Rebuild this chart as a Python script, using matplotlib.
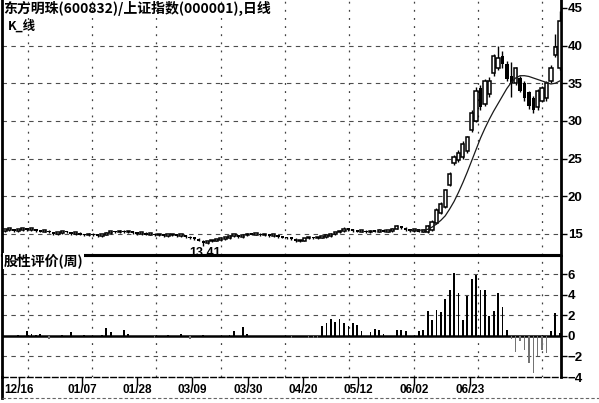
import numpy as np
import matplotlib.pyplot as plt
from matplotlib.lines import Line2D

CJK = ['Noto Sans CJK SC', 'DejaVu Sans']
NUM = ['Liberation Sans', 'DejaVu Sans']

title = '东方明珠(600832)/上证指数(000001),日线'
sub_title = 'K_线'
ind_title = '股性评价(周)'

# daily candles, oldest first
opens = [15.4, 15.5, 15.6, 15.4, 15.5, 15.7, 15.5, 15.6, 15.4, 15.3,
         15.4, 15.2, 15.0, 15.1, 15.3, 15.2, 15.0, 15.1, 14.9, 14.8,
         15.0, 14.8, 14.7, 14.9, 15.1, 15.3, 15.2, 15.4, 15.2, 15.3,
         15.1, 15.0, 15.1, 14.9, 15.0, 14.8, 14.9, 14.7, 14.8, 14.9,
         14.7, 14.8, 14.6, 14.4, 14.3, 14.1, 13.8, 14.0, 14.1, 14.2,
         14.3, 14.4, 14.7, 14.8, 14.6, 14.8, 15.0, 14.9, 15.0, 14.8,
         14.9, 14.7, 14.8, 14.6, 14.5, 14.4, 14.3, 14.0, 14.1, 14.4,
         14.5, 14.4, 14.5, 14.6, 14.7, 15.0, 15.2, 15.4, 15.7, 15.5,
         15.4, 15.3, 15.4, 15.2, 15.4, 15.3, 15.5, 15.3, 15.4, 15.7,
         16.0, 15.8, 15.5, 15.4, 15.6, 15.3,
         15.3, 15.5, 16.5, 17.8, 18.6, 21.5, 24.4, 24.8, 25.2, 26.0,
         28.8, 30.0, 34.4, 32.3, 33.6, 36.3, 37.0, 38.6, 37.6, 36.0,
         35.0, 35.7, 35.0, 33.8, 33.0, 31.8, 32.7, 33.0, 35.3, 38.8,
         37.0]
closes = [15.5, 15.6, 15.4, 15.5, 15.7, 15.5, 15.6, 15.4, 15.3, 15.4,
          15.2, 15.0, 15.1, 15.3, 15.2, 15.0, 15.1, 14.9, 14.8, 15.0,
          14.8, 14.7, 14.9, 15.1, 15.3, 15.2, 15.4, 15.2, 15.3, 15.1,
          15.0, 15.1, 14.9, 15.0, 14.8, 14.9, 14.7, 14.8, 14.9, 14.7,
          14.8, 14.6, 14.4, 14.3, 14.1, 13.8, 14.0, 14.1, 14.2, 14.3,
          14.4, 14.7, 14.8, 14.6, 14.8, 15.0, 14.9, 15.0, 14.8, 14.9,
          14.7, 14.8, 14.6, 14.5, 14.4, 14.3, 14.0, 14.1, 14.4, 14.5,
          14.4, 14.5, 14.6, 14.7, 15.0, 15.2, 15.4, 15.7, 15.5, 15.4,
          15.3, 15.4, 15.2, 15.4, 15.3, 15.5, 15.3, 15.4, 15.7, 16.0,
          15.8, 15.5, 15.4, 15.6, 15.3, 15.4,
          16.0, 16.6, 18.2, 19.0, 20.8, 23.0, 25.2, 25.8, 27.0, 27.8,
          31.0, 34.0, 31.8, 35.3, 35.3, 38.6, 38.4, 37.6, 35.6, 35.0,
          37.0, 34.0, 33.0, 32.0, 31.4, 34.0, 34.4, 35.0, 37.0, 39.8,
          43.3]
highs = [15.7, 15.8, 15.7, 15.6, 15.8, 15.8, 15.7, 15.7, 15.5, 15.5,
         15.5, 15.3, 15.2, 15.4, 15.4, 15.3, 15.2, 15.2, 15.0, 15.1,
         15.1, 14.9, 15.0, 15.2, 15.4, 15.4, 15.5, 15.5, 15.4, 15.4,
         15.2, 15.2, 15.2, 15.1, 15.1, 15.0, 15.0, 14.9, 15.0, 15.0,
         14.9, 14.9, 14.7, 14.5, 14.4, 14.2, 14.1, 14.2, 14.3, 14.4,
         14.5, 14.8, 14.9, 14.9, 14.9, 15.1, 15.1, 15.1, 15.1, 15.0,
         15.0, 14.9, 14.9, 14.7, 14.6, 14.5, 14.4, 14.2, 14.5, 14.6,
         14.6, 14.6, 14.7, 14.8, 15.1, 15.3, 15.5, 15.9, 15.8, 15.6,
         15.5, 15.5, 15.5, 15.5, 15.5, 15.6, 15.6, 15.5, 15.8, 16.2,
         16.1, 15.9, 15.6, 15.7, 15.7, 15.5,
         16.2, 16.8, 18.4, 19.3, 21.0, 23.2, 25.5, 26.2, 27.3, 28.0,
         31.5, 34.5, 34.8, 35.6, 35.8, 38.9, 40.0, 39.3, 37.9, 37.8,
         37.2, 36.0, 35.3, 34.0, 33.3, 34.2, 34.6, 35.3, 37.4, 41.5,
         44.6]
lows = [15.3, 15.4, 15.3, 15.3, 15.4, 15.4, 15.4, 15.3, 15.2, 15.2,
        15.1, 14.9, 14.9, 15.0, 15.1, 14.9, 14.9, 14.8, 14.7, 14.7,
        14.7, 14.6, 14.6, 14.8, 15.0, 15.1, 15.1, 15.1, 15.1, 15.0,
        14.9, 14.9, 14.8, 14.8, 14.7, 14.7, 14.6, 14.6, 14.7, 14.6,
        14.6, 14.5, 14.3, 14.2, 14.0, 13.41, 13.7, 13.9, 14.0, 14.1,
        14.2, 14.3, 14.6, 14.5, 14.5, 14.7, 14.8, 14.8, 14.7, 14.7,
        14.6, 14.6, 14.5, 14.4, 14.3, 14.2, 13.9, 13.9, 14.0, 14.3,
        14.3, 14.3, 14.4, 14.5, 14.6, 14.9, 15.1, 15.3, 15.4, 15.3,
        15.2, 15.2, 15.1, 15.1, 15.2, 15.2, 15.2, 15.2, 15.3, 15.6,
        15.6, 15.4, 15.3, 15.3, 15.2, 15.2,
        15.1, 15.4, 16.3, 17.6, 18.4, 21.3, 24.2, 24.5, 25.0, 25.8,
        28.5, 29.8, 31.5, 32.0, 33.2, 36.0, 36.8, 37.0, 35.3, 33.2,
        34.8, 33.8, 32.7, 31.6, 31.0, 31.5, 32.5, 32.7, 35.0, 38.5,
        36.8]

# moving average, only the part that shows above the candles
ma_start = 92
ma_vals = [15.4, 15.5, 15.5, 15.5, 15.6, 15.9, 16.3, 16.8, 17.4, 18.3,
           19.3, 20.5, 21.8, 23.2, 24.7, 26.2, 27.7, 29.0, 30.2, 31.3,
           32.3, 33.3, 34.3, 35.1, 35.7, 36.0, 36.0, 35.9, 35.7, 35.5,
           35.3, 35.1, 34.9, 35.0, 35.3]

# 股性评价 bars, one per candle
ind_vals = [0, 0, 0, 0.1, 0, 0.5, 0.2, 0.1, 0.15, 0,
            -0.3, 0, 0, 0.1, 0, 0.4, 0, 0, 0.1, 0,
            0, 0, 0.1, 0.8, 0.4, 0, 0, 0.6, 0.2, 0,
            0, 0, 0, 0, -0.15, 0, 0, 0.1, 0, 0,
            0.2, 0, -0.3, 0, 0, 0.1, 0, 0, 0, 0,
            0, 0.1, 0.5, 0, 0.9, 0.2, 0, 0, 0, 0,
            0, 0, 0, 0, 0, -0.2, 0, 0, 0, -0.2,
            -0.2, -0.2, 0.95, 1.25, 1.7, 1.35, 1.7, 1.25, 0.95, 1.3,
            1.1, 0.45, 0, 0.4, 0.7, 0.6, 0.15, 0, 0, 0.6,
            0.6, 0.5, 0, 0, 0.5, 0.55, 2.4, 1.55, 2.5, 2.35,
            3.6, 4.5, 6.15, 4.15, 1.55, 3.9, 5.6, 5.9, 4.5, 4.5,
            1.95, 2.4, 4.2, 2.8, 0.6, -0.3, -1.55, -0.45, -1.4, -2.65,
            -3.6, -2.0, -1.4, -1.7, 0.5, 2.2, 0.3]

date_labels = ['12/16', '01/07', '01/28', '03/09', '03/30', '04/20', '05/12', '06/02', '06/23']
date_idx = [3.2, 17.5, 30, 42.5, 55.2, 67.7, 80.2, 93, 105.7]

low_label = '13.41'
low_idx = 45

W, H = 599, 403
fig = plt.figure(figsize=(W / 100, H / 100), dpi=100)
ax1 = fig.add_axes([2 / W, 1 - 255 / H, 559 / W, 255 / H])
ax2 = fig.add_axes([2 / W, 1 - 377 / H, 559 / W, 121 / H])

x = np.arange(len(closes))
o = np.array(opens)
c = np.array(closes)
up = c >= o

# vertical grid (styling only)
vgrid = np.arange(5.2, 127, 14.6)
for ax in (ax1, ax2):
    for v in vgrid:
        ax.axvline(v, color='0.25', lw=0.9, ls=(0, (1.5, 5)), zorder=0)

for yv in [15, 20, 25, 30, 35, 40]:
    ax1.axhline(yv, color='0.3', lw=0.8, ls=(0, (4, 4)), zorder=0)
for yv in [6, 4, 2, -2]:
    ax2.axhline(yv, color='0.3', lw=0.8, ls=(0, (4, 4)), zorder=0)

# candles
ax1.vlines(x, lows, highs, color='black', lw=1.0, zorder=2)
body_bot = np.minimum(o, c)
body_h = np.maximum(np.abs(c - o), 0.25)
ax1.bar(x[up], body_h[up], 0.75, bottom=body_bot[up], facecolor='white',
        edgecolor='black', lw=1.1, zorder=3)
ax1.bar(x[~up], body_h[~up], 0.75, bottom=body_bot[~up], color='black', zorder=3)

ma_x = np.arange(ma_start, ma_start + len(ma_vals))
ax1.plot(ma_x, ma_vals, color='0.1', lw=0.9, zorder=4)

ax1.text(low_idx + 0.5, lows[low_idx] - 0.1, low_label, ha='center', va='top',
         fontsize=9, fontweight='bold', family=NUM, zorder=5)

ax1.set_xlim(-0.7, 126.3)
ax1.set_ylim(12.2, 46.05)
ax1.set_yticks([15, 20, 25, 30, 35, 40, 45])

# indicator
ax2.axhline(0, color='black', lw=1.8, zorder=2)
iv = np.array(ind_vals)
ax2.bar(x[iv > 0], iv[iv > 0], 0.4, color='black', zorder=3)
ax2.bar(x[iv < 0], iv[iv < 0], 0.3, color='0.45', zorder=3)
ax2.set_xlim(-0.7, 126.3)
ax2.set_ylim(-4, 7.8)
ax2.set_yticks([6, 4, 2, 0, -2, -4])
ax2.set_xticks(date_idx)
ax2.set_xticklabels(date_labels)
ax2.tick_params(axis='x', direction='out', length=6, width=1, pad=-1,
                labelsize=8.5)
for lab in ax2.get_xticklabels():
    lab.set_fontfamily(NUM)
    lab.set_fontweight('bold')

for ax in (ax1, ax2):
    ax.yaxis.tick_right()
    ax.tick_params(axis='y', direction='out', length=4, width=1, pad=1,
                   labelsize=9.5)
    for lab in ax.get_yticklabels():
        lab.set_fontfamily(NUM)
        lab.set_fontweight('bold')
    ax.spines['left'].set_linewidth(2)
    ax.spines['right'].set_linewidth(2)
ax1.set_xticks([])
ax1.spines['top'].set_visible(False)
ax1.spines['bottom'].set_linewidth(1.5)
ax2.spines['top'].set_linewidth(1.5)
ax2.spines['bottom'].set_linewidth(1)
ax2.spines['bottom'].set_linestyle((0, (4, 2)))

fig.text(3 / W, 1 - 1 / H, title, ha='left', va='top', fontsize=10,
         fontweight='bold', family=CJK)
fig.text(8 / W, 1 - 19 / H, sub_title, ha='left', va='top', fontsize=9,
         fontweight='bold', family=CJK)
ax2.text(0.003, 1.02, ind_title, transform=ax2.transAxes, ha='left', va='top',
         fontsize=10, fontweight='bold', family=CJK, zorder=6,
         bbox=dict(facecolor='white', edgecolor='none', pad=0.5))

# frame below the date row
fig.add_artist(Line2D([2 / W, 2 / W], [1 - 377 / H, 1 - 398 / H], color='black', lw=2))
fig.add_artist(Line2D([2 / W, 599 / W], [1 - 398 / H, 1 - 398 / H], color='0.4',
                      lw=0.8, ls=(0, (3, 2))))

fig.savefig('out.png', dpi=100, facecolor='white')
